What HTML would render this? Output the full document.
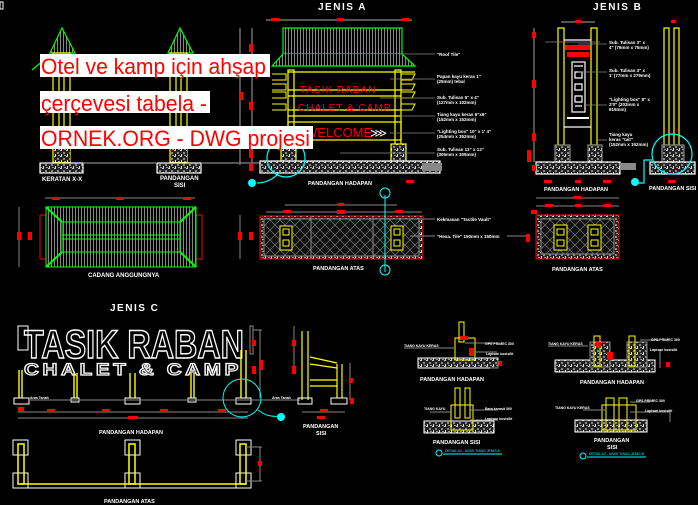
<!DOCTYPE html>
<html><head><meta charset="utf-8"><style>
html,body{margin:0;padding:0;background:#000;width:698px;height:505px;overflow:hidden}
svg{display:block}
.t{font-family:"Liberation Sans",sans-serif;fill:#fff;font-weight:bold}
.wm{font-family:"Liberation Sans",sans-serif;fill:#f00;font-size:22px}
</style></head><body>
<svg width="698" height="505" viewBox="0 0 698 505" xmlns="http://www.w3.org/2000/svg">
<defs>
<pattern id="conc" width="6" height="6" patternUnits="userSpaceOnUse">
<rect width="6" height="6" fill="#222"/><rect x="0" y="0" width="2" height="1" fill="#ccc"/><rect x="3" y="2" width="2" height="2" fill="#888"/><rect x="1" y="4" width="1" height="2" fill="#ddd"/><rect x="4" y="5" width="2" height="1" fill="#999"/></pattern>
<pattern id="xh" width="10" height="10" patternUnits="userSpaceOnUse">
<rect width="10" height="10" fill="#111"/><path d="M0 0L10 10M10 0L0 10" stroke="#777" stroke-width="0.7"/></pattern>
<pattern id="vl" width="3" height="4" patternUnits="userSpaceOnUse"><rect width="3" height="4" fill="#000"/><rect width="1" height="4" fill="#888"/></pattern>
</defs>
<rect x="0" y="2" width="3" height="7" fill="none" stroke="#fff"/>

<!-- Left towers -->
<g stroke-width="1.2" fill="none">
<path d="M50 53L62 28L75 53Z" stroke="#0f0" fill="url(#vl)"/>
<path d="M168 53L180 28L193 53Z" stroke="#0f0" fill="url(#vl)"/>
<line x1="32" y1="70" x2="50" y2="55" stroke="#0f0"/>
<rect x="53" y="53" width="17" height="109" stroke="#ff0"/>
<rect x="59" y="60" width="5" height="100" stroke="#ff0"/>
<rect x="170" y="53" width="17" height="109" stroke="#ff0"/>
<rect x="176" y="60" width="5" height="100" stroke="#ff0"/>
<rect x="40" y="163" width="43" height="10" stroke="#fff" fill="url(#conc)"/>
<rect x="157" y="163" width="44" height="10" stroke="#fff" fill="url(#conc)"/>
<rect x="54" y="148" width="16" height="14" fill="url(#conc)"/>
<rect x="171" y="148" width="16" height="14" fill="url(#conc)"/>
<line x1="83" y1="163" x2="157" y2="163" stroke="#888"/>
<line x1="201" y1="163" x2="290" y2="163" stroke="#888"/>
</g>
<text class="t" x="42" y="181" font-size="6">KERATAN X-X</text>
<text class="t" x="160" y="180" font-size="6">PANDANGAN</text>
<text class="t" x="174" y="187" font-size="6">SISI</text>

<!-- Roof plan left -->
<g fill="none" stroke-width="1">
<line x1="45" y1="198" x2="195" y2="198" stroke="#888"/>
<rect x="40" y="215" width="162" height="44" stroke="#f00"/>
<rect x="46" y="207" width="150" height="60" stroke="#0f0" fill="url(#vl)"/>
<rect x="62" y="222" width="118" height="30" stroke="#0f0"/>
<line x1="62" y1="235" x2="180" y2="235" stroke="#0f0"/>
<line x1="62" y1="239" x2="180" y2="239" stroke="#0f0"/>
<path d="M46 207L62 222M196 207L180 222M46 267L62 252M196 267L180 252" stroke="#0f0" stroke-width="2"/>
<line x1="19" y1="207" x2="19" y2="267" stroke="#888"/>
<rect x="17" y="232" width="4" height="8" fill="#f00" stroke="none"/>
<rect x="28" y="232" width="4" height="8" fill="#f00" stroke="none"/>
<rect x="52" y="197" width="8" height="3" fill="#f00" stroke="none"/><rect x="116" y="197" width="8" height="3" fill="#f00" stroke="none"/><rect x="183" y="197" width="8" height="3" fill="#f00" stroke="none"/>
</g>
<text class="t" x="88" y="277" font-size="6">CADANG ANGGUNGNYA</text>

<!-- JENIS A -->
<text class="t" x="318" y="10" font-size="10" letter-spacing="1.5">JENIS A</text>
<g fill="none" stroke-width="1.2">
<line x1="266" y1="20" x2="412" y2="20" stroke="#888"/>
<line x1="240" y1="28" x2="240" y2="165" stroke="#888"/>
<line x1="252" y1="28" x2="252" y2="165" stroke="#888"/>
<rect x="283" y="28" width="119" height="26" stroke="#0f0" fill="url(#vl)"/>
<path d="M283 54L272 66H415L402 54" stroke="#0f0" fill="url(#vl)"/>
<rect x="288" y="70" width="6" height="92" stroke="#ff0"/>
<rect x="395" y="70" width="6" height="92" stroke="#ff0"/>
<line x1="288" y1="72" x2="415" y2="72" stroke="#ff0"/>
<line x1="288" y1="90" x2="401" y2="90" stroke="#ff0"/>
<line x1="288" y1="96" x2="401" y2="96" stroke="#ff0"/>
<line x1="288" y1="110" x2="401" y2="110" stroke="#ff0"/>
<line x1="288" y1="116" x2="401" y2="116" stroke="#ff0"/>
<rect x="288" y="122" width="113" height="18" stroke="#ff0"/>
<path d="M272 74h14v6h-14M272 84h14v6h-14M272 92h14v6h-14M272 104h14v6h-14M401 74h14l-3 6h-11M401 84h14l-3 6h-11M401 92h14l-3 6h-11M401 104h14l-3 6h-11" stroke="#ff0" stroke-width="1"/>
<rect x="281" y="144" width="15" height="18" fill="url(#conc)" stroke="#ff0"/>
<rect x="391" y="144" width="15" height="18" fill="url(#conc)" stroke="#ff0"/>
<rect x="260" y="161" width="180" height="12" stroke="#fff" fill="url(#conc)"/>
<rect x="422" y="163" width="20" height="8" fill="#888" stroke="none"/>
<circle cx="286" cy="158" r="19" stroke="#0ff"/>
<path d="M257 183Q270 183 280 172" stroke="#0ff"/>
<circle cx="252" cy="183" r="4" fill="#0ff" stroke="none"/>
</g>
<text x="300" y="93" font-family="Liberation Sans,sans-serif" font-size="10" fill="#f00" letter-spacing="1">TASIK RABAN</text>
<text x="298" y="111" font-family="Liberation Sans,sans-serif" font-size="10" fill="#f00" letter-spacing="1">CHALET &amp; CAMP</text>
<text x="305" y="137" font-family="Liberation Sans,sans-serif" font-size="13" fill="#f00">WELCOME</text>
<text x="370" y="137" font-size="12" fill="#fff" font-family="Liberation Sans,sans-serif">⋙</text>
<g fill="#f00"><rect x="271" y="18" width="8" height="3"/><rect x="337" y="18" width="6" height="3"/><rect x="402" y="18" width="8" height="3"/><rect x="249" y="44" width="4" height="8"/><rect x="239" y="92" width="4" height="8"/><rect x="249" y="102" width="4" height="8"/><rect x="249" y="150" width="4" height="8"/><rect x="249" y="163" width="4" height="8"/><rect x="406" y="180" width="8" height="3"/></g>
<g stroke="#888" stroke-width="0.8"><line x1="400" y1="54" x2="435" y2="54"/><line x1="390" y1="79" x2="435" y2="79"/><line x1="380" y1="98" x2="435" y2="98"/><line x1="400" y1="116" x2="435" y2="116"/><line x1="390" y1="133" x2="435" y2="133"/><line x1="340" y1="153" x2="435" y2="153"/></g>
<g class="t" font-size="4.5"><text x="437" y="56">"Roof Tile"</text><text x="437" y="78">Papan kayu keras 1"</text><text x="437" y="83">(25mm) tebal</text><text x="437" y="99">Sub. Tulisan 5" x 4"</text><text x="437" y="104">(127mm x 102mm)</text><text x="437" y="116">Tiang kayu keras 6"x6"</text><text x="437" y="121">(152mm x 152mm)</text><text x="437" y="133">"Lighting box" 10" x 1' 4"</text><text x="437" y="138">(254mm x 352mm)</text><text x="437" y="151">Sub. Tulisan 12" x 12"</text><text x="437" y="156">(305mm x 305mm)</text></g>
<text class="t" x="308" y="185" font-size="5.5">PANDANGAN HADAPAN</text>

<!-- Plan A -->
<g fill="none" stroke-width="1">
<line x1="285" y1="205" x2="397" y2="205" stroke="#888"/>
<line x1="266" y1="212" x2="422" y2="212" stroke="#888"/>
<rect x="260" y="216" width="163" height="43" stroke="#f00" fill="url(#conc)"/>
<rect x="264" y="219" width="155" height="37" fill="url(#xh)" stroke="#888"/>
<line x1="311" y1="216" x2="311" y2="259" stroke="#888"/><line x1="373" y1="216" x2="373" y2="259" stroke="#888"/>
<rect x="280" y="226" width="12" height="24" stroke="#ff0" fill="#000"/><rect x="283" y="229" width="6" height="6" stroke="#ff0"/><rect x="283" y="240" width="6" height="6" stroke="#ff0"/>
<rect x="391" y="226" width="12" height="24" stroke="#ff0" fill="#000"/><rect x="394" y="229" width="6" height="6" stroke="#ff0"/><rect x="394" y="240" width="6" height="6" stroke="#ff0"/>
<line x1="385" y1="195" x2="385" y2="272" stroke="#0ff"/>
<circle cx="385" cy="193" r="5" stroke="#0ff"/><circle cx="385" cy="270" r="5" stroke="#0ff"/>
<line x1="410" y1="219" x2="435" y2="219" stroke="#888"/><line x1="410" y1="236" x2="435" y2="236" stroke="#888"/><line x1="507" y1="236" x2="530" y2="236" stroke="#888"/>
<line x1="240" y1="215" x2="240" y2="259" stroke="#888"/>
</g>
<g fill="#f00"><rect x="338" y="203" width="6" height="3"/><rect x="283" y="210" width="8" height="3"/><rect x="337" y="210" width="8" height="4"/><rect x="395" y="210" width="8" height="3"/><rect x="238" y="232" width="4" height="8"/><rect x="249" y="232" width="4" height="8"/></g>
<g class="t" font-size="4.5"><text x="437" y="221">Kekmasan "Tactile Vault"</text><text x="437" y="238">"Hexa. Tile" 150mm x 150mm</text></g>
<text class="t" x="313" y="270" font-size="5.5">PANDANGAN ATAS</text>

<!-- JENIS B -->
<text class="t" x="593" y="10" font-size="10" letter-spacing="1.5">JENIS B</text>
<g fill="none" stroke-width="1.2">
<line x1="561" y1="22" x2="595" y2="22" stroke="#888"/>
<line x1="534" y1="28" x2="534" y2="162" stroke="#888"/>
<rect x="558" y="28" width="6" height="117" stroke="#ff0"/>
<rect x="591" y="28" width="6" height="117" stroke="#ff0"/>
<line x1="564" y1="40" x2="591" y2="40" stroke="#fff"/>
<line x1="564" y1="127" x2="591" y2="127" stroke="#fff"/>
<rect x="565" y="45" width="25" height="5" fill="#f00" stroke="none"/>
<rect x="567" y="52" width="22" height="5" fill="#f00" stroke="none"/>
<rect x="572" y="62" width="13" height="50" stroke="#fff"/>
<path d="M574 66h9M575 72h7v6h-7zM575 84h7v6h-7zM575 96h7v6h-7zM575 106h7" stroke="#fff"/>
<line x1="567" y1="118" x2="589" y2="118" stroke="#fff" stroke-width="2"/>
<rect x="555" y="145" width="15" height="17" stroke="#888" fill="url(#conc)"/>
<rect x="588" y="145" width="14" height="17" stroke="#888" fill="url(#conc)"/>
<rect x="536" y="162" width="84" height="12" stroke="#fff" fill="url(#conc)"/>
<rect x="620" y="163" width="16" height="7" fill="#888" stroke="none"/>
<rect x="664" y="28" width="5" height="117" stroke="#ff0"/>
<rect x="674" y="28" width="5" height="117" stroke="#ff0"/>
<rect x="662" y="145" width="22" height="17" stroke="#888" fill="url(#conc)"/>
<rect x="650" y="162" width="45" height="12" stroke="#fff" fill="url(#conc)"/>
<circle cx="672" cy="154" r="20" stroke="#0ff"/>
<path d="M638 183h6V160h8" stroke="#0ff"/><circle cx="635" cy="182" r="4" fill="#0ff" stroke="none"/>
<line x1="545" y1="42" x2="600" y2="42" stroke="#888" stroke-width="0.8"/>
<g stroke="#888" stroke-width="0.8"><line x1="578" y1="44" x2="607" y2="44"/><line x1="578" y1="72" x2="607" y2="72"/><line x1="586" y1="105" x2="607" y2="105"/><line x1="597" y1="140" x2="607" y2="140"/></g>
</g>
<g fill="#f00"><rect x="575" y="20" width="6" height="3"/><rect x="532" y="32" width="4" height="6"/><rect x="532" y="80" width="4" height="8"/><rect x="532" y="133" width="4" height="8"/><rect x="527" y="150" width="4" height="12"/><rect x="532" y="165" width="4" height="6"/><rect x="544" y="180" width="8" height="3"/><rect x="575" y="180" width="6" height="3"/><rect x="603" y="180" width="8" height="3"/><rect x="671" y="20" width="5" height="3"/><rect x="668" y="180" width="8" height="3"/></g>
<g class="t" font-size="4.5"><text x="609" y="44">Sub. Tulisan 3" x</text><text x="609" y="49">4" (76mm x 75mm)</text><text x="609" y="72">Sub. Tulisan 3" x</text><text x="609" y="77">1' (77mm x 279mm)</text><text x="609" y="101">"Lighting box" 8" x</text><text x="609" y="106">3'0" (203mm x</text><text x="609" y="111">915mm)</text><text x="609" y="136">Tiang kayu</text><text x="609" y="141">keras "tait"</text><text x="609" y="146">(152mm x 152mm)</text></g>
<text class="t" x="544" y="191" font-size="5.5">PANDANGAN HADAPAN</text>
<text class="t" x="649" y="190" font-size="5.5">PANDANGAN SISI</text>

<!-- Plan B -->
<g fill="none" stroke-width="1">
<line x1="536" y1="198" x2="619" y2="198" stroke="#888"/>
<line x1="536" y1="206" x2="619" y2="206" stroke="#888"/>
<rect x="536" y="215" width="83" height="44" stroke="#f00" fill="url(#conc)"/>
<rect x="541" y="219" width="73" height="35" fill="url(#xh)" stroke="#888"/>
<rect x="554" y="225" width="13" height="25" stroke="#ff0" fill="#000"/><rect x="557" y="229" width="7" height="6" stroke="#ff0"/><rect x="557" y="240" width="7" height="6" stroke="#ff0"/>
<rect x="588" y="225" width="13" height="25" stroke="#ff0" fill="#000"/><rect x="591" y="229" width="7" height="6" stroke="#ff0"/><rect x="591" y="240" width="7" height="6" stroke="#ff0"/>
</g>
<g fill="#f00"><rect x="573" y="196" width="8" height="3"/><rect x="545" y="204" width="8" height="3"/><rect x="575" y="204" width="6" height="3"/><rect x="603" y="204" width="8" height="3"/><rect x="531" y="210" width="6" height="4"/><rect x="526" y="234" width="4" height="8"/></g>
<text class="t" x="552" y="271" font-size="5.5">PANDANGAN ATAS</text>

<!-- JENIS C -->
<text class="t" x="110" y="311" font-size="10" letter-spacing="1.5">JENIS C</text>
<text x="24" y="358" font-family="Liberation Sans,sans-serif" font-weight="bold" font-size="40" fill="none" stroke="#fff" stroke-width="1.5" textLength="220" lengthAdjust="spacingAndGlyphs">TASIK RABAN</text>
<text x="24" y="375" font-family="Liberation Sans,sans-serif" font-weight="bold" font-size="17" fill="none" stroke="#fff" stroke-width="1.2" textLength="218" lengthAdjust="spacingAndGlyphs" letter-spacing="3">CHALET &amp; CAMP</text>
<g fill="none" stroke-width="1">
<rect x="18" y="326" width="10" height="24" stroke="#fff"/><rect x="250" y="326" width="3" height="28" stroke="#888"/>
<path d="M19 370V398M22 370V398M74 373V398M77 373V398M130 373V398M135 373V398M191 373V398M194 373V398M241 350V398M246 350V398" stroke="#ff0" stroke-width="1.4"/>
<rect x="14" y="398" width="15" height="6" stroke="#fff"/><rect x="71" y="398" width="8" height="4" stroke="#fff"/><rect x="125" y="398" width="15" height="6" stroke="#fff"/><rect x="188" y="398" width="8" height="4" stroke="#fff"/><rect x="236" y="398" width="15" height="6" stroke="#fff"/>
<line x1="29" y1="400" x2="300" y2="400" stroke="#888"/>
<line x1="18" y1="412" x2="248" y2="412" stroke="#888"/><line x1="18" y1="418" x2="248" y2="418" stroke="#888"/>
<line x1="253" y1="330" x2="262" y2="330" stroke="#888"/><line x1="260" y1="330" x2="260" y2="398" stroke="#888"/>
<circle cx="242" cy="398" r="19" stroke="#0ff"/>
<path d="M258 410Q268 418 280 416" stroke="#0ff"/><circle cx="281" cy="417" r="4" fill="#0ff" stroke="none"/>
<path d="M302 331V400M308 331V400M310 357l27 6M310 364l27 4M310 380h27M310 386h27M337 364V398M342 364V398" stroke="#ff0" stroke-width="1.2"/>
<rect x="298" y="398" width="14" height="6" stroke="#fff"/><rect x="331" y="398" width="16" height="6" stroke="#fff"/>
<line x1="294" y1="326" x2="294" y2="374" stroke="#888"/><line x1="350" y1="363" x2="350" y2="400" stroke="#888"/>
<line x1="302" y1="412" x2="345" y2="412" stroke="#888"/>
</g>
<g fill="#f00"><rect x="18" y="407" width="6" height="5"/><rect x="47" y="409" width="8" height="3"/><rect x="102" y="409" width="8" height="3"/><rect x="160" y="409" width="8" height="3"/><rect x="218" y="409" width="8" height="3"/><rect x="128" y="416" width="10" height="3"/><rect x="252" y="340" width="4" height="6"/><rect x="259" y="360" width="4" height="10"/><rect x="252" y="366" width="4" height="8"/><rect x="292" y="340" width="4" height="6"/><rect x="292" y="366" width="4" height="8"/><rect x="349" y="378" width="4" height="5"/><rect x="350" y="398" width="4" height="6"/><rect x="320" y="409" width="8" height="3"/><rect x="317" y="416" width="8" height="3"/></g>
<g class="t" font-size="3.5"><text x="30" y="399">Aras Tanah</text><text x="272" y="399">Aras Tanah</text></g>
<text class="t" x="99" y="434" font-size="5.5">PANDANGAN HADAPAN</text>
<text class="t" x="303" y="428" font-size="5.5">PANDANGAN</text><text class="t" x="316" y="435" font-size="5.5">SISI</text>

<!-- plan C -->
<g fill="none" stroke-width="1">
<rect x="13" y="440" width="15" height="15" stroke="#fff"/><rect x="13" y="473" width="15" height="15" stroke="#fff"/>
<rect x="125" y="440" width="15" height="15" stroke="#fff"/><rect x="125" y="473" width="15" height="15" stroke="#fff"/>
<rect x="236" y="440" width="15" height="15" stroke="#fff"/><rect x="236" y="473" width="15" height="15" stroke="#fff"/>
<rect x="18" y="444" width="6" height="40" stroke="#ff0" stroke-width="1.5"/>
<rect x="129" y="444" width="6" height="40" stroke="#ff0" stroke-width="1.5"/>
<rect x="240" y="444" width="6" height="40" stroke="#ff0" stroke-width="1.5"/>
<line x1="20" y1="484" x2="246" y2="484" stroke="#ff0" stroke-width="1.5"/>
<line x1="16" y1="488" x2="248" y2="488" stroke="#fff"/>
<line x1="246" y1="447" x2="262" y2="447" stroke="#888"/><line x1="246" y1="481" x2="262" y2="481" stroke="#888"/><line x1="260" y1="447" x2="260" y2="481" stroke="#888"/>
</g>
<rect x="258" y="461" width="4" height="5" fill="#f00"/>
<text class="t" x="104" y="503" font-size="5.5">PANDANGAN ATAS</text>

<!-- details bottom right -->
<g fill="none" stroke-width="1">
<rect x="418" y="358" width="80" height="10" fill="url(#conc)" stroke="#fff"/>
<rect x="455" y="338" width="20" height="22" stroke="#ff0"/>
<rect x="459" y="322" width="5" height="20" stroke="#ff0"/>
<rect x="460" y="336" width="8" height="4" fill="#f00" stroke="none"/>
<rect x="469" y="348" width="5" height="8" fill="#f00" stroke="none"/>
<rect x="498" y="361" width="4" height="5" fill="#f00" stroke="none"/>
<path d="M404 348h50M465 343h30M475 352h22M498 360v8h-8" stroke="#888"/>
<rect x="555" y="360" width="100" height="12" fill="url(#conc)" stroke="#fff"/>
<rect x="590" y="342" width="20" height="25" stroke="#888" fill="url(#conc)"/>
<rect x="627" y="342" width="20" height="25" stroke="#888" fill="url(#conc)"/>
<rect x="594" y="336" width="6" height="30" stroke="#ff0"/>
<rect x="629" y="336" width="6" height="30" stroke="#ff0"/>
<rect x="596" y="342" width="5" height="6" fill="#f00" stroke="none"/><rect x="607" y="352" width="6" height="8" fill="#f00" stroke="none"/>
<rect x="666" y="362" width="4" height="5" fill="#f00" stroke="none"/>
<path d="M548 346h40M640 340h20M660 350v18" stroke="#888"/>
<rect x="424" y="421" width="70" height="12" fill="url(#conc)" stroke="#fff"/>
<rect x="451" y="405" width="22" height="25" stroke="#ff0"/>
<rect x="455" y="388" width="5" height="30" stroke="#ff0"/><rect x="465" y="388" width="5" height="30" stroke="#ff0"/>
<path d="M430 412h22M470 410h28M470 420h28" stroke="#888"/>
<rect x="575" y="420" width="72" height="12" fill="url(#conc)" stroke="#fff"/>
<rect x="602" y="405" width="34" height="25" stroke="#ff0"/>
<rect x="606" y="398" width="8" height="32" stroke="#ff0"/><rect x="619" y="398" width="8" height="32" stroke="#ff0"/>
<path d="M583 410h22M630 402h20M630 412h40v10" stroke="#888"/>
<circle cx="439" cy="453" r="3" stroke="#0ff"/><line x1="443" y1="454" x2="502" y2="454" stroke="#0ff"/>
<circle cx="583" cy="456" r="3" stroke="#0ff"/><line x1="587" y1="457" x2="646" y2="457" stroke="#0ff"/>
</g>
<g class="t" font-size="3.5"><text x="485" y="345">GPS PRIMEC 300</text><text x="486" y="355">Lapisan kosisilit</text><text x="404" y="347">TIANG KAYU KERAS</text><text x="651" y="341">GPS PRIMEC 300</text><text x="650" y="351">Lapisan kosisilit</text><text x="548" y="345">TIANG KAYU KERAS</text><text x="485" y="410">Bara kerasit 300</text><text x="485" y="420">Lapisan kosisilit</text><text x="424" y="410">TIANG KAYU</text><text x="636" y="402">GPS PRIMEC 300</text><text x="645" y="412">Lapisan kosisilit</text><text x="555" y="409">TIANG KAYU KERAS</text></g>
<g font-family="Liberation Sans,sans-serif" font-size="3.5" fill="#0ff"><text x="445" y="452">DETAIL A1 - ASAS TIANG JENIS A</text><text x="589" y="455">DETAIL A2 - ASAS TIANG JENIS B</text></g>
<g class="t" font-size="5.5"><text x="420" y="381">PANDANGAN HADAPAN</text><text x="580" y="384">PANDANGAN HADAPAN</text><text x="433" y="444">PANDANGAN SISI</text><text x="594" y="442">PANDANGAN</text><text x="607" y="449">SISI</text></g>

<!-- Watermark -->
<rect x="40" y="54" width="230" height="23" fill="#fff"/>
<rect x="40" y="91" width="170" height="22" fill="#fff"/>
<rect x="40" y="126" width="273" height="23" fill="#fff"/>
<text class="wm" x="41" y="74" textLength="225" lengthAdjust="spacingAndGlyphs">Otel ve kamp için ahşap</text>
<text class="wm" x="41" y="111" textLength="166" lengthAdjust="spacingAndGlyphs">çerçevesi tabela -</text>
<text class="wm" x="41" y="146" textLength="269" lengthAdjust="spacingAndGlyphs">ORNEK.ORG - DWG projesi</text>
</svg>
</body></html>
